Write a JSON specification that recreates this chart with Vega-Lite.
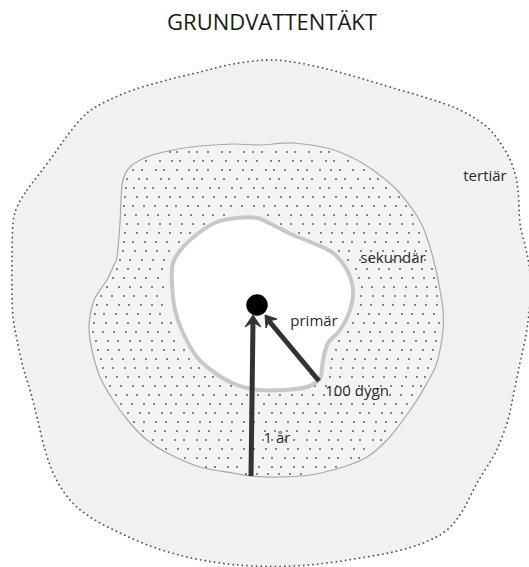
{
  "$schema": "https://vega.github.io/schema/vega-lite/v6.json",
  "width": 529,
  "height": 567,
  "autosize": "none",
  "padding": 0,
  "background": "white",
  "config": {"view": {"stroke": null}},
  "projection": {"type": "identity", "scale": 1, "translate": [0, 0]},
  "layer": [
    {
      "data": {"values": [{"zone": "tertiär",
        "xs": [17,27,40,57,70,87,107,133,167,200,233,267,293,327,360,393,427,460,487,503,513,518,520,525,529,531,529,526,520,513,508,500,493,477,463,447,423,393,360,327,293,253,220,187,153,120,90,70,55,45,37,30,23,17,13,12,12,13],
        "ys": [207,190,173,150,132,113,101,90,80,72,64,60,62,69,78,88,98,110,127,147,167,190,223,245,265,290,313,335,363,397,420,442,457,483,510,530,543,552,558,563,566,566,563,557,547,533,517,500,477,450,417,390,367,340,317,290,257,223]}]},
      "transform": [{"flatten": ["xs", "ys"]}],
      "mark": {"type": "line", "interpolate": "cardinal-closed", "fill": "#f1f1f1", "stroke": "#555555", "strokeWidth": 1.8, "strokeDash": [0.1, 4.6], "strokeCap": "round"},
      "encoding": {
        "longitude": {"field": "xs", "type": "quantitative"},
        "latitude": {"field": "ys", "type": "quantitative"},
        "order": {"value": null}
      }
    },
    {
      "data": {"values": [{"zone": "sekundär",
        "xs": [121,123,130,147,173,200,233,260,293,327,353,377,397,413,422,430,436,440,443,443,440,435,427,417,403,387,367,343,310,277,250,233,200,167,147,130,113,100,92,89,93,100,107,114,117,120],
        "ys": [200,180,167,157,150,146,144,145,143,148,158,173,190,210,225,247,270,290,310,330,350,368,383,400,420,440,457,467,475,477,476,473,467,453,440,423,400,377,350,327,303,290,280,265,257,223]}]},
      "transform": [{"flatten": ["xs", "ys"]}],
      "mark": {"type": "line", "interpolate": "cardinal-closed", "fill": "#f3f3f3", "stroke": "#a8a8a8", "strokeWidth": 1.2},
      "encoding": {
        "longitude": {"field": "xs", "type": "quantitative"},
        "latitude": {"field": "ys", "type": "quantitative"},
        "order": {"value": null}
      }
    },
    {
      "data": {"values": [
        {"y": 152, "xs": [170,177,189,197,208,222,230,244,253,262,276,287,295,309,321,329]},
        {"y": 161, "xs": [146,160,172,180,194,203,212,226,238,246,257,271,279,293,301,312,326,334,348]},
        {"y": 170, "xs": [133,142,156,164,177,189,197,208,222,230,243,252,266,274,285,298,307,320,331,340,353,364]},
        {"y": 179, "xs": [127,139,147,161,169,182,194,202,215,224,237,249,257,270,279,292,303,312,325,336,345,358,370,378]},
        {"y": 188, "xs": [126,134,145,153,166,175,188,197,210,219,232,241,254,263,276,285,298,307,320,329,342,351,364,373,386]},
        {"y": 197, "xs": [125,137,147,159,170,180,193,203,214,226,235,248,258,269,281,290,303,313,324,336,346,357,369,379,390,399]},
        {"y": 206, "xs": [124,133,144,155,167,176,188,198,209,221,231,242,254,264,275,287,297,308,320,330,341,353,362,374,385,396,406]},
        {"y": 215, "xs": [125,136,148,158,169,181,191,203,213,224,268,279,291,301,312,324,334,346,357,367,379,390,401,412]},
        {"y": 224, "xs": [127,138,149,160,170,182,193,204,281,291,303,313,325,335,347,357,369,380,390,402,413]},
        {"y": 233, "xs": [125,137,147,159,170,181,190,299,309,321,332,342,354,364,376,387,397,409,419]},
        {"y": 242, "xs": [124,133,145,156,167,179,321,331,343,352,365,375,386,398,408,419]},
        {"y": 251, "xs": [123,135,146,157,169,339,349,361,371,383,393,405,415,426]},
        {"y": 260, "xs": [120,130,142,153,164,348,360,370,381,393,402,414,425]},
        {"y": 269, "xs": [117,128,139,150,162,356,367,379,389,400,412,422,432]},
        {"y": 278, "xs": [113,124,135,146,158,359,369,381,391,402,413,424,434]},
        {"y": 287, "xs": [107,119,130,141,152,163,362,372,384,394,406,416,427,436]},
        {"y": 296, "xs": [101,112,124,134,146,157,361,373,383,395,405,417,427,437]},
        {"y": 305, "xs": [97,107,119,129,141,152,162,361,371,383,393,404,415,426,437]},
        {"y": 314, "xs": [95,104,116,127,138,150,160,358,369,379,390,402,412,423,434]},
        {"y": 323, "xs": [94,106,117,128,139,150,162,171,353,364,374,386,396,408,418,429,439]},
        {"y": 332, "xs": [93,103,114,126,136,148,158,169,348,359,370,380,392,402,414,424,435]},
        {"y": 341, "xs": [96,108,118,130,140,152,162,174,339,350,361,371,383,393,404,416,426,436]},
        {"y": 350, "xs": [98,108,119,131,141,152,164,174,184,336,347,357,369,379,390,402,411,423,433]},
        {"y": 359, "xs": [101,112,123,134,146,156,167,178,189,332,343,355,365,376,387,398,409,420,431]},
        {"y": 368, "xs": [103,113,125,135,147,158,169,180,191,199,331,341,353,363,375,386,396,408,418,428]},
        {"y": 377, "xs": [106,117,128,139,150,161,172,183,194,205,213,330,340,352,363,373,384,395,406,417,425]},
        {"y": 386, "xs": [110,121,133,143,155,165,177,187,199,209,220,231,315,326,337,348,359,369,381,391,402,413,421]},
        {"y": 395, "xs": [116,127,137,149,159,171,181,193,203,214,226,236,247,258,269,280,292,302,313,324,335,346,357,368,379,390,401,412]},
        {"y": 404, "xs": [121,132,144,154,166,176,187,198,210,220,231,242,253,264,276,286,297,308,319,331,341,352,363,374,385,396,407]},
        {"y": 413, "xs": [128,140,149,162,171,184,193,206,215,228,237,250,259,272,281,294,303,316,325,338,347,360,369,382,391,402]},
        {"y": 422, "xs": [134,144,156,166,178,188,200,210,222,232,244,254,266,276,288,298,310,320,332,342,354,364,376,386,396]},
        {"y": 431, "xs": [143,155,165,177,187,199,209,221,231,243,253,265,275,287,297,309,319,331,341,353,363,375,385]},
        {"y": 440, "xs": [153,162,175,184,197,206,219,228,241,250,263,272,285,294,307,316,329,338,351,360,373,381]},
        {"y": 449, "xs": [166,178,188,200,210,222,232,244,254,266,276,288,298,310,320,332,342,354,364]},
        {"y": 458, "xs": [185,197,206,219,228,241,250,263,272,285,294,307,316,329,338,351,359]},
        {"y": 467, "xs": [206,215,228,237,250,259,272,281,294,303,316,325,336]},
        {"y": 474, "xs": [246,257,268,279,290,301]}
      ]},
      "transform": [{"flatten": ["xs"]}],
      "mark": {"type": "circle", "size": 3.5, "color": "#555555", "opacity": 1},
      "encoding": {
        "longitude": {"field": "xs", "type": "quantitative"},
        "latitude": {"field": "y", "type": "quantitative"}
      }
    },
    {
      "data": {"values": [{"zone": "primär",
        "xs": [237,257,273,293,313,333,347,353,350,340,328,323,320,307,283,260,237,215,197,183,175,172,173,183,200,217],
        "ys": [218,218,225,235,243,253,270,290,310,330,343,360,378,387,390,390,385,373,357,333,310,283,263,247,232,222]}]},
      "transform": [{"flatten": ["xs", "ys"]}],
      "mark": {"type": "line", "interpolate": "cardinal-closed", "fill": "#ffffff", "stroke": "#c8c8c8", "strokeWidth": 4},
      "encoding": {
        "longitude": {"field": "xs", "type": "quantitative"},
        "latitude": {"field": "ys", "type": "quantitative"},
        "order": {"value": null}
      }
    },
    {
      "data": {"values": [
        {"type": "Feature", "properties": {"name": "1 år"}, "geometry": {"type": "LineString", "coordinates": [[251,476],[253,322]]}},
        {"type": "Feature", "properties": {"name": "100 dygn"}, "geometry": {"type": "LineString", "coordinates": [[319,381],[269,321]]}}
      ]},
      "mark": {"type": "geoshape", "filled": false, "stroke": "#333333", "strokeWidth": 5}
    },
    {
      "data": {"values": [
        {"type": "Feature", "properties": {"name": "1 år"}, "geometry": {"type": "Polygon", "coordinates": [[[253,315],[261,327],[253,322],[245,327],[253,315]]]}},
        {"type": "Feature", "properties": {"name": "100 dygn"}, "geometry": {"type": "Polygon", "coordinates": [[[265,315],[277,319],[269,321],[266,328],[265,315]]]}}
      ]},
      "mark": {"type": "geoshape", "fill": "#333333", "stroke": "#333333", "strokeWidth": 1, "strokeJoin": "round"}
    },
    {
      "data": {"values": [{"name": "brunn", "x": 257, "y": 305}]},
      "mark": {"type": "circle", "size": 460, "color": "#000000", "opacity": 1},
      "encoding": {
        "longitude": {"field": "x", "type": "quantitative"},
        "latitude": {"field": "y", "type": "quantitative"}
      }
    },
    {
      "data": {"values": [
        {"label": "tertiär", "x": 485, "y": 181},
        {"label": "sekundär", "x": 393, "y": 263},
        {"label": "primär", "x": 314, "y": 326},
        {"label": "100 dygn", "x": 357, "y": 396},
        {"label": "1 år", "x": 277, "y": 443}
      ]},
      "mark": {"type": "text", "font": "Open Sans", "fontSize": 15, "color": "#2a2a2a", "align": "center", "baseline": "alphabetic"},
      "encoding": {
        "longitude": {"field": "x", "type": "quantitative"},
        "latitude": {"field": "y", "type": "quantitative"},
        "text": {"field": "label", "type": "nominal"}
      }
    },
    {
      "data": {"values": [{"label": "GRUNDVATTENTÄKT", "x": 272, "y": 30}]},
      "mark": {"type": "text", "font": "Open Sans", "fontSize": 22, "color": "#1a1a1a", "align": "center", "baseline": "alphabetic"},
      "encoding": {
        "longitude": {"field": "x", "type": "quantitative"},
        "latitude": {"field": "y", "type": "quantitative"},
        "text": {"field": "label", "type": "nominal"}
      }
    }
  ]
}
